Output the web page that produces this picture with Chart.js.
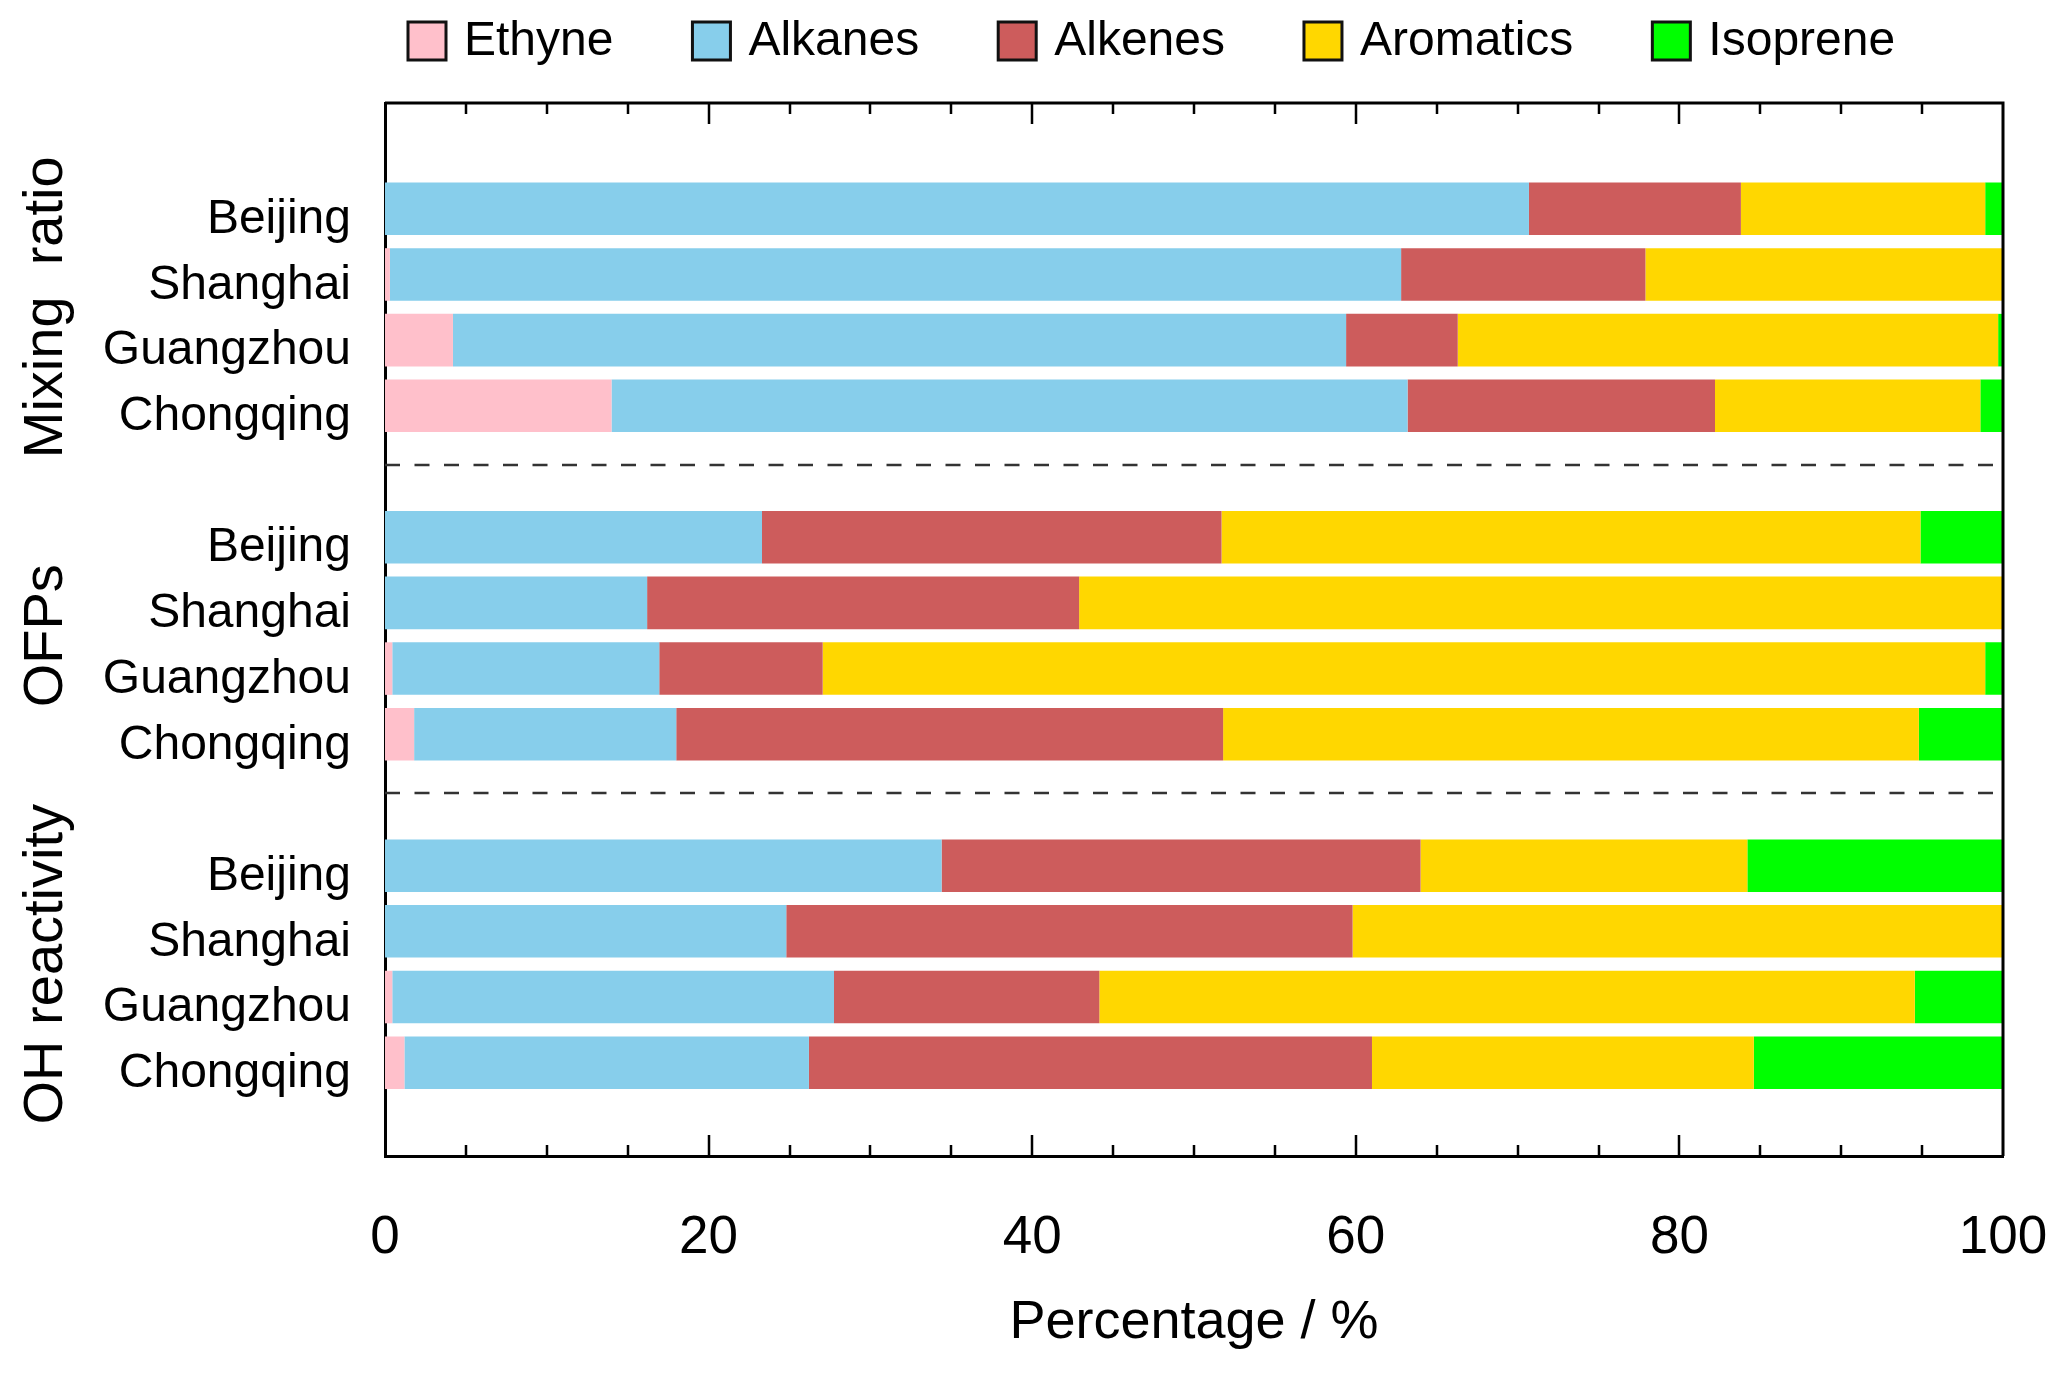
<!DOCTYPE html>
<html>
<head>
<meta charset="utf-8">
<script src="https://cdn.jsdelivr.net/npm/chart.js@4.4.1/dist/chart.umd.min.js"></script>
<style>
  html, body { margin: 0; padding: 0; background: #fff; }
  #wrap { width: 2067px; height: 1373px; position: relative; }
</style>
</head>
<body>
<div id="wrap"><canvas id="chart"></canvas></div>
<script>
// Data: share (%) of each VOC class, rows = group x city
const cities = ['Beijing', 'Shanghai', 'Guangzhou', 'Chongqing'];
const groups = ['Mixing  ratio', 'OFPs', 'OH reactivity'];
const species = ['Ethyne', 'Alkanes', 'Alkenes', 'Aromatics', 'Isoprene'];

//               Mixing ratio              OFPs                      OH reactivity
const ethyne    = [0,    0.3,  4.2,  14.0,  0,    0,    0.45, 1.8,   0,    0,    0.45, 1.2];
const alkanes   = [70.7, 62.5, 55.2, 49.2,  23.3, 16.2, 16.5, 16.2,  34.4, 24.8, 27.3, 25.0];
const alkenes   = [13.1, 15.1, 6.9,  19.0,  28.4, 26.7, 10.1, 33.8,  29.6, 35.0, 16.4, 34.8];
const aromatics = [15.1, 22.1, 33.4, 16.4,  43.2, 57.1, 71.85, 43.0, 20.2, 40.2, 50.4, 23.6];
const isoprene  = [1.1,  0,    0.3,  1.4,   5.1,  0,    1.1,  5.2,   15.8, 0,    5.45, 15.4];

const xTicks = [0, 20, 40, 60, 80, 100];
const separators = [3.9, 8.9];   // dashed lines between the groups (y-axis units)

const colors = ['#FFC0CB', '#87CEEB', '#CD5C5C', '#FFD700', '#00FF00'];
const FONT = "'Liberation Sans', Arial, Helvetica, sans-serif";

// one empty row between groups
const rows = [];
groups.forEach((g, gi) => cities.forEach((c, ci) => rows.push(gi * 5 + ci)));

const series = [ethyne, alkanes, alkenes, aromatics, isoprene];
const datasets = species.map((name, i) => ({
  label: name,
  data: series[i].map((v, k) => ({ x: v, y: rows[k] })),
  backgroundColor: colors[i],
  borderWidth: 0,
  categoryPercentage: 1,
  barPercentage: 0.8
}));

// no automatic label padding, the chart area is fixed by the layout
const noPadding = s => {
  s.paddingLeft = 0; s.paddingRight = 0; s.paddingTop = 0; s.paddingBottom = 0;
};

// frame, inward ticks, dashed separators, group titles, legend
const decorations = {
  id: 'decorations',
  afterDraw(chart) {
    const { ctx, chartArea: a, scales: { x, y } } = chart;
    ctx.save();

    ctx.strokeStyle = '#333';
    ctx.lineWidth = 2.5;
    ctx.setLineDash([15, 14.5]);
    separators.forEach(v => {
      const py = Math.round(y.getPixelForValue(v));
      ctx.beginPath();
      ctx.moveTo(a.left, py);
      ctx.lineTo(a.right, py);
      ctx.stroke();
    });
    ctx.setLineDash([]);

    ctx.strokeStyle = '#000';
    ctx.lineWidth = 3;
    ctx.beginPath();
    ctx.moveTo(a.left, a.top);
    ctx.lineTo(a.right, a.top);
    ctx.lineTo(a.right, a.bottom);
    ctx.stroke();

    ctx.lineWidth = 2.5;
    for (let v = x.min + 5; v < x.max; v += 5) {
      const px = Math.round(x.getPixelForValue(v));
      const len = xTicks.includes(v) ? 21 : 11;
      ctx.beginPath();
      ctx.moveTo(px, a.bottom);
      ctx.lineTo(px, a.bottom - len);
      ctx.moveTo(px, a.top);
      ctx.lineTo(px, a.top + len);
      ctx.stroke();
    }

    // group titles, rotated
    ctx.fillStyle = '#000';
    ctx.font = '56px ' + FONT;
    ctx.textAlign = 'center';
    ctx.textBaseline = 'alphabetic';
    groups.forEach((g, gi) => {
      const cy = y.getPixelForValue(gi * 5 + 1.5);
      ctx.save();
      ctx.translate(62, cy);
      ctx.rotate(-Math.PI / 2);
      ctx.fillText(g, 0, 0);
      ctx.restore();
    });

    // legend
    ctx.font = '48px ' + FONT;
    ctx.textAlign = 'left';
    let lx = 408;
    species.forEach((name, i) => {
      ctx.fillStyle = colors[i];
      ctx.fillRect(lx, 22, 38, 38);
      ctx.strokeStyle = '#111';
      ctx.lineWidth = 3;
      ctx.strokeRect(lx, 22, 38, 38);
      ctx.fillStyle = '#000';
      ctx.fillText(name, lx + 56, 55);
      lx += 56 + ctx.measureText(name).width + 79;
    });

    ctx.restore();
  }
};

new Chart(document.getElementById('chart'), {
  type: 'bar',
  data: { datasets },
  options: {
    indexAxis: 'y',
    responsive: true,
    maintainAspectRatio: false,
    animation: false,
    layout: { padding: { top: 103, right: 64, bottom: 0, left: 0 } },
    plugins: {
      legend: { display: false },
      tooltip: { enabled: false }
    },
    scales: {
      x: {
        type: 'linear',
        stacked: true,
        min: 0,
        max: 100,
        afterBuildTicks: s => { s.ticks = xTicks.map(v => ({ value: v })); },
        afterFit: s => { s.height = 217; noPadding(s); },
        grid: { display: false, drawTicks: false },
        border: { display: true, color: '#000', width: 3 },
        ticks: { color: '#000', font: { family: FONT, size: 53 }, padding: 51, maxRotation: 0 },
        title: {
          display: true,
          text: 'Percentage / %',
          color: '#000',
          font: { family: FONT, size: 54 },
          padding: { top: 0, bottom: 17 }
        }
      },
      y: {
        type: 'linear',
        stacked: true,
        reverse: true,
        offset: false,
        min: -1.61,
        max: 14.42,
        afterBuildTicks: s => { s.ticks = rows.map(v => ({ value: v })); },
        afterFit: s => { s.width = 385; noPadding(s); },
        grid: { display: false, drawTicks: false, offset: false },
        border: { display: true, color: '#000', width: 3 },
        ticks: {
          color: '#000',
          font: { family: FONT, size: 48 },
          padding: 34,
          labelOffset: 11,
          callback: v => cities[v % 5]
        }
      }
    }
  },
  plugins: [decorations]
});
</script>
</body>
</html>
